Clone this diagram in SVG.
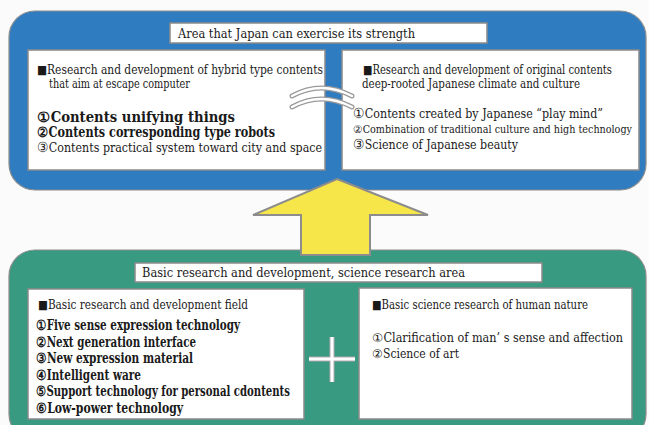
<svg xmlns="http://www.w3.org/2000/svg" width="649" height="425" viewBox="0 0 649 425" font-family="DejaVu Serif Condensed, DejaVu Serif, serif">
<style>
text{fill:#1a1a1a;}
.h{font-size:12px;}
.b{font-size:14px;font-weight:bold;}
.r{font-size:13.5px;}
.s{font-size:11px;}
.box{fill:#ffffff;stroke:#8a8a8a;stroke-width:1.5;}
</style>
<rect width="649" height="425" fill="#fbfbfb"/>
<g id="top-area">
<rect x="9" y="11" width="637" height="179" rx="26" fill="#2f7dc0" stroke="#8c8c8c" stroke-width="1.2"/>
<rect class="box" x="170" y="23" width="317" height="20"/>
<text class="h" x="178" y="38" textLength="237" lengthAdjust="spacingAndGlyphs">Area that Japan can exercise its strength</text>
</g>
<g id="hybrid-contents">
<rect class="box" x="28" y="50" width="297" height="120"/>
<text class="h" x="37" y="74" textLength="286" lengthAdjust="spacingAndGlyphs">■Research and development of hybrid type contents</text>
<text class="h" x="49" y="88" textLength="141" lengthAdjust="spacingAndGlyphs">that aim at escape computer</text>
<text class="b" x="37" y="122" textLength="198" lengthAdjust="spacingAndGlyphs">①Contents unifying things</text>
<text class="b" x="37" y="137" textLength="238" lengthAdjust="spacingAndGlyphs">②Contents corresponding type robots</text>
<text class="r" x="37" y="152" textLength="285" lengthAdjust="spacingAndGlyphs">③Contents practical system toward city and space</text>
</g>
<g id="original-contents">
<rect class="box" x="342" y="50" width="297" height="120"/>
<text class="h" x="363" y="74" textLength="249" lengthAdjust="spacingAndGlyphs">■Research and development of original contents</text>
<text class="h" x="362" y="88" textLength="218" lengthAdjust="spacingAndGlyphs">deep-rooted Japanese climate and culture</text>
<text class="r" x="353" y="118" textLength="250" lengthAdjust="spacingAndGlyphs">①Contents created by Japanese “play mind”</text>
<text class="s" x="353" y="133" textLength="279" lengthAdjust="spacingAndGlyphs">②Combination of traditional culture and high technology</text>
<text class="r" x="353" y="149" textLength="165" lengthAdjust="spacingAndGlyphs">③Science of Japanese beauty</text>
</g>
<g id="bottom-area">
<rect x="9" y="250" width="637" height="190" rx="26" fill="#389a80" stroke="#8c8c8c" stroke-width="1.2"/>
<rect class="box" x="135" y="263" width="407" height="19"/>
<text class="h" x="142" y="277" textLength="323" lengthAdjust="spacingAndGlyphs">Basic research and development, science research area</text>
</g>
<g id="basic-rd-field">
<rect class="box" x="28" y="289" width="276" height="130"/>
<text class="h" x="38" y="309" textLength="210" lengthAdjust="spacingAndGlyphs">■Basic research and development field</text>
<text class="b" x="36" y="330" textLength="204" lengthAdjust="spacingAndGlyphs">①Five sense expression technology</text>
<text class="b" x="36" y="347" textLength="160" lengthAdjust="spacingAndGlyphs">②Next generation interface</text>
<text class="b" x="36" y="363" textLength="157" lengthAdjust="spacingAndGlyphs">③New expression material</text>
<text class="b" x="36" y="380" textLength="105" lengthAdjust="spacingAndGlyphs">④Intelligent ware</text>
<text class="b" x="36" y="396" textLength="254" lengthAdjust="spacingAndGlyphs">⑤Support technology for personal cdontents</text>
<text class="b" x="36" y="413" textLength="147" lengthAdjust="spacingAndGlyphs">⑥Low-power technology</text>
</g>
<g id="basic-science">
<rect class="box" x="359" y="288" width="273" height="131"/>
<text class="h" x="372" y="309" textLength="216" lengthAdjust="spacingAndGlyphs">■Basic science research of human nature</text>
<text class="h" x="372" y="342" textLength="251" lengthAdjust="spacingAndGlyphs">①Clarification of man’ s sense and affection</text>
<text class="h" x="372" y="358" textLength="87" lengthAdjust="spacingAndGlyphs">②Science of art</text>
</g>
<g id="connectors">
<path d="M337,179 L428,215 L370,215 L370,255 L301,255 L301,215 L253,215 Z" fill="#f6e64a" stroke="#8c8c8c" stroke-width="2"/>
<g fill="none" stroke-linecap="round">
<path d="M292,96 Q321,80 352,96" stroke="#9a9a9a" stroke-width="5"/>
<path d="M292,96 Q321,80 352,96" stroke="#ffffff" stroke-width="2.5"/>
<path d="M292,107 Q321,91 352,107" stroke="#9a9a9a" stroke-width="5"/>
<path d="M292,107 Q321,91 352,107" stroke="#ffffff" stroke-width="2.5"/>
</g>
<g stroke-linecap="butt">
<line x1="309" y1="359" x2="355" y2="359" stroke="#b0a8b0" stroke-width="5"/>
<line x1="332" y1="337" x2="332" y2="382" stroke="#b0a8b0" stroke-width="5"/>
<line x1="309" y1="359" x2="355" y2="359" stroke="#ffffff" stroke-width="3"/>
<line x1="332" y1="337" x2="332" y2="382" stroke="#ffffff" stroke-width="3"/>
</g>
</g>
</svg>
